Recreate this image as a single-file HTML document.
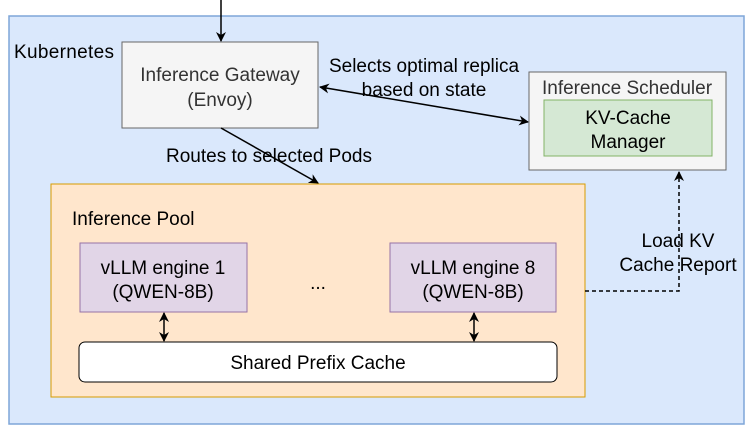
<!DOCTYPE html>
<html><head><style>
body{margin:0;width:747px;height:431px;background:#fff;overflow:hidden;font-family:"Liberation Sans",sans-serif}
text{font-family:"Liberation Sans",sans-serif;font-size:19px}
</style></head><body>
<svg width="747" height="431" viewBox="0 0 747 431" xmlns="http://www.w3.org/2000/svg">
<defs>
<marker id="a" markerWidth="10" markerHeight="10" refX="9" refY="5" orient="auto" markerUnits="userSpaceOnUse"><path d="M0,0 L10,5 L0,10 L3,5 z" fill="#000"/></marker>
<marker id="s" markerWidth="10" markerHeight="10" refX="9" refY="5" orient="auto-start-reverse" markerUnits="userSpaceOnUse"><path d="M0,0 L10,5 L0,10 L3,5 z" fill="#000"/></marker>
</defs>
<rect x="9" y="16" width="735" height="408" fill="#dae8fc" stroke="#7ea6d8" stroke-width="1.5"/>
<text x="14" y="58" textLength="100">Kubernetes</text>
<rect x="122" y="42" width="196" height="86" fill="#f5f5f5" stroke="#666"/>
<text x="220" y="81" fill="#333" text-anchor="middle">Inference Gateway</text>
<text x="220" y="106" fill="#333" text-anchor="middle">(Envoy)</text>
<rect x="529" y="72" width="197" height="98" fill="#f5f5f5" stroke="#666"/>
<text x="627" y="94" fill="#333" text-anchor="middle">Inference Scheduler</text>
<rect x="544" y="100" width="168" height="56" fill="#d5e8d4" stroke="#82b366"/>
<text x="628" y="124" text-anchor="middle">KV-Cache</text>
<text x="628" y="148" text-anchor="middle">Manager</text>
<rect x="51" y="184" width="534" height="213" fill="#ffe6cc" stroke="#d79b00"/>
<text x="72" y="225">Inference Pool</text>
<rect x="80" y="243" width="167" height="69" fill="#e1d5e7" stroke="#9673a6"/>
<text x="163" y="274" text-anchor="middle">vLLM engine 1</text>
<text x="163" y="298" text-anchor="middle">(QWEN-8B)</text>
<rect x="390" y="243" width="166" height="69" fill="#e1d5e7" stroke="#9673a6"/>
<text x="473" y="274" text-anchor="middle">vLLM engine 8</text>
<text x="473" y="298" text-anchor="middle">(QWEN-8B)</text>
<text x="318" y="289" text-anchor="middle">...</text>
<rect x="79" y="342" width="478" height="40" rx="6" fill="#fff" stroke="#000"/>
<text x="318" y="369" text-anchor="middle">Shared Prefix Cache</text>
<line x1="221" y1="0" x2="221" y2="41" stroke="#000" stroke-width="1.5" marker-end="url(#a)"/>
<line x1="320" y1="87" x2="528" y2="122" stroke="#000" stroke-width="1.5" marker-start="url(#s)" marker-end="url(#s)"/>
<line x1="221" y1="128" x2="318" y2="183" stroke="#000" stroke-width="1.5" marker-end="url(#a)"/>
<line x1="164" y1="313" x2="164" y2="341" stroke="#000" stroke-width="1.5" marker-start="url(#s)" marker-end="url(#s)"/>
<line x1="474" y1="313" x2="474" y2="341" stroke="#000" stroke-width="1.5" marker-start="url(#s)" marker-end="url(#s)"/>
<polyline points="585,291 679,291 679,172" fill="none" stroke="#000" stroke-width="1.5" stroke-dasharray="4,3" marker-end="url(#a)"/>
<text x="424" y="72" text-anchor="middle">Selects optimal replica</text>
<text x="424" y="96" text-anchor="middle">based on state</text>
<text x="269" y="162" text-anchor="middle">Routes to selected Pods</text>
<text x="678" y="247" text-anchor="middle">Load  KV</text>
<text x="678" y="271" text-anchor="middle">Cache Report</text>
</svg>
</body></html>
